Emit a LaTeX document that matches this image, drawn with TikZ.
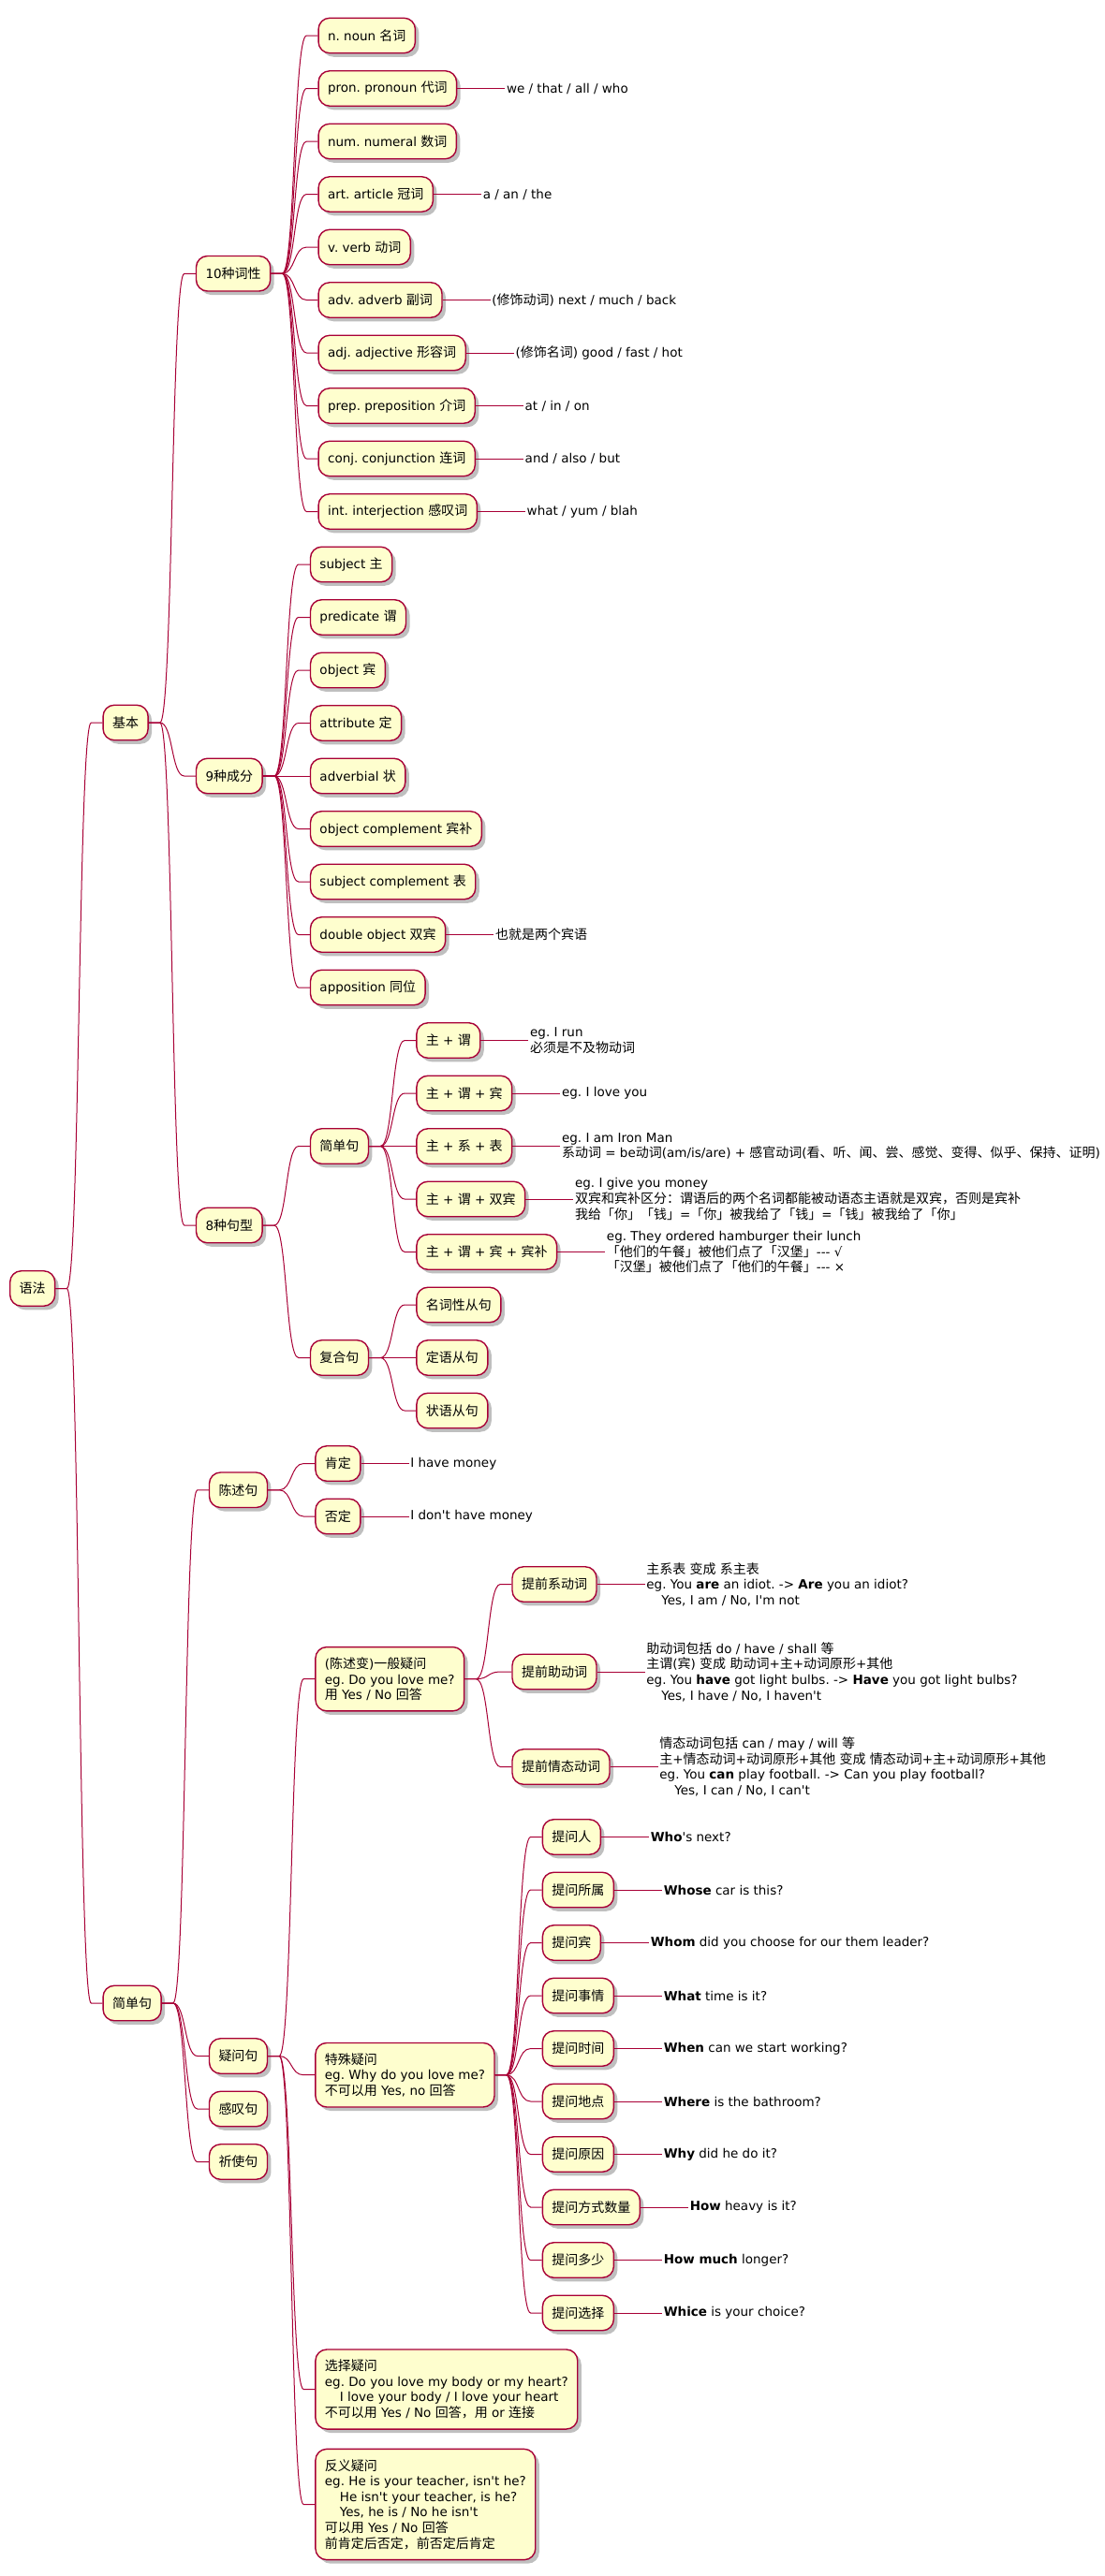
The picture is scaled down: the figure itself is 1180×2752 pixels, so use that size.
\documentclass[tikz,border=0pt]{standalone}
\usepackage{fontspec}
\setmainfont{DejaVu Sans}[Ligatures=TeXOff]
\newfontfamily\cjkfont{Noto Sans CJK SC}[Scale=1.037]
\usetikzlibrary{calc,shadows}
\XeTeXinterchartokenstate=1
\chardef\cjkcls=7
\newcount\cjkcnt
\def\setcjkrange#1#2{\cjkcnt=#1\relax\loop\XeTeXcharclass\cjkcnt=\cjkcls\relax\ifnum\cjkcnt<#2\relax\advance\cjkcnt by 1\relax\repeat}
\setcjkrange{"4E00}{"9FFF}
\setcjkrange{"3000}{"303F}
\setcjkrange{"FF00}{"FFEF}
\XeTeXinterchartoks 0 \cjkcls = {\cjkfont}
\XeTeXinterchartoks 4095 \cjkcls = {\cjkfont}
\XeTeXinterchartoks \cjkcls 0 = {\rmfamily}
\XeTeXinterchartoks \cjkcls 4095 = {\rmfamily}
\definecolor{bord}{HTML}{A80036}
\definecolor{boxfill}{HTML}{FEFECE}
\newcommand\myfont{\fontsize{13.5}{16.6}\selectfont\frenchspacing}
\tikzset{
  box/.style={draw=bord, fill=boxfill, line width=1.4pt, rounded corners=12pt,
    inner xsep=10pt, inner ysep=11pt, minimum height=37.5pt, align=left, font=\myfont,
    drop shadow={shadow xshift=4pt, shadow yshift=-4pt, fill=black, opacity=0.25}},
  leaf/.style={inner xsep=1.5pt, inner ysep=2pt, align=left, font=\myfont},
  lk/.style={draw=bord, line width=1pt}
}
\newcommand\LK[2]{\draw[lk] (#1.east) -- ++(12,0) .. controls +(14,0) and +(-14,0) .. ($(#2.west)+(-12,0)$) -- (#2.west);}
\newcommand\MN[4]{%
  \path (#2.east) ++(50,0) coordinate (tmpc);
  \node[box,anchor=west] (#1) at (tmpc |- 0,#3) {#4};
  \LK{#2}{#1}}
\newcommand\LF[3]{%
  \node[leaf,anchor=west] (#1) at ($(#2.east)+(51,0)$) {#3};
  \draw[lk] (#2.east) -- (#1.west);}
\begin{document}
\frenchspacing
\begin{tikzpicture}[x=1pt,y=-1pt]
\fill[white] (0,0) rectangle (1180,2752);
\useasboundingbox (0,0) rectangle (1180,2752);
\node[box,anchor=west] (root) at (10,1376.5) {语法};
\MN{jb}{root}{772}{基本}
\MN{s1}{root}{2140}{简单句}
% 基本
\MN{c10}{jb}{292.25}{10种词性}
\MN{c9}{jb}{829}{9种成分}
\MN{c8}{jb}{1309}{8种句型}
% 10种词性
\MN{w1}{c10}{38}{n. noun 名词}
\MN{w2}{c10}{94.5}{pron. pronoun 代词}
\LF{w2t}{w2}{we / that / all / who}
\MN{w3}{c10}{151}{num. numeral 数词}
\MN{w4}{c10}{207.5}{art. article 冠词}
\LF{w4t}{w4}{a / an / the}
\MN{w5}{c10}{264}{v. verb 动词}
\MN{w6}{c10}{320.5}{adv. adverb 副词}
\LF{w6t}{w6}{(修饰动词) next / much / back}
\MN{w7}{c10}{377}{adj. adjective 形容词}
\LF{w7t}{w7}{(修饰名词) good / fast / hot}
\MN{w8}{c10}{433.5}{prep. preposition 介词}
\LF{w8t}{w8}{at / in / on}
\MN{w9}{c10}{490}{conj. conjunction 连词}
\LF{w9t}{w9}{and / also / but}
\MN{w10}{c10}{546.5}{int. interjection 感叹词}
\LF{w10t}{w10}{what / yum / blah}
% 9种成分
\MN{p1}{c9}{603}{subject 主}
\MN{p2}{c9}{659.5}{predicate 谓}
\MN{p3}{c9}{716}{object 宾}
\MN{p4}{c9}{772.5}{attribute 定}
\MN{p5}{c9}{829}{adverbial 状}
\MN{p6}{c9}{885.5}{object complement 宾补}
\MN{p7}{c9}{942}{subject complement 表}
\MN{p8}{c9}{998.5}{double object 双宾}
\LF{p8t}{p8}{也就是两个宾语}
\MN{p9}{c9}{1055}{apposition 同位}
% 8种句型
\MN{ss}{c8}{1224.5}{简单句}
\MN{fh}{c8}{1450.5}{复合句}
\MN{k1}{ss}{1111.5}{主 + 谓}
\LF{k1t}{k1}{eg. I run\\必须是不及物动词}
\MN{k2}{ss}{1168}{主 + 谓 + 宾}
\LF{k2t}{k2}{eg. I love you}
\MN{k3}{ss}{1224.5}{主 + 系 + 表}
\LF{k3t}{k3}{eg. I am Iron Man\\系动词 = be动词(am/is/are) + 感官动词(看、听、闻、尝、感觉、变得、似乎、保持、证明)}
\MN{k4}{ss}{1281}{主 + 谓 + 双宾}
\LF{k4t}{k4}{eg. I give you money\\双宾和宾补区分：谓语后的两个名词都能被动语态主语就是双宾，否则是宾补\\我给「你」「钱」=「你」被我给了「钱」=「钱」被我给了「你」}
\MN{k5}{ss}{1337.5}{主 + 谓 + 宾 + 宾补}
\LF{k5t}{k5}{eg. They ordered hamburger their lunch\\「他们的午餐」被他们点了「汉堡」--- √\\「汉堡」被他们点了「他们的午餐」--- ×}
\MN{k6}{fh}{1394}{名词性从句}
\MN{k7}{fh}{1450.5}{定语从句}
\MN{k8}{fh}{1507}{状语从句}
% 简单句
\MN{cs}{s1}{1591.75}{陈述句}
\MN{yw}{s1}{2196.5}{疑问句}
\MN{gt}{s1}{2253}{感叹句}
\MN{qs}{s1}{2309.5}{祈使句}
\MN{kd}{cs}{1563.5}{肯定}
\LF{kdt}{kd}{I have money}
\MN{fd}{cs}{1620}{否定}
\LF{fdt}{fd}{I don't have money}
% 疑问句
\MN{yb}{yw}{1793.7}{(陈述变)一般疑问\\eg. Do you love me?\\用 Yes / No 回答}
\MN{ts}{yw}{2216.7}{特殊疑问\\eg. Why do you love me?\\不可以用 Yes, no 回答}
\MN{xz}{yw}{2552.5}{选择疑问\\eg. Do you love my body or my heart?\\\hspace*{16pt}I love your body / I love your heart\\不可以用 Yes / No 回答，用 or 连接}
\MN{fy}{yw}{2675.5}{反义疑问\\eg. He is your teacher, isn't he?\\\hspace*{16pt}He isn't your teacher, is he?\\\hspace*{16pt}Yes, he is / No he isn't\\可以用 Yes / No 回答\\前肯定后否定，前否定后肯定}
% 一般疑问
\MN{t1}{yb}{1692.5}{提前系动词}
\LF{t1t}{t1}{主系表 变成 系主表\\eg. You \textbf{are} an idiot. -> \textbf{Are} you an idiot?\\\hspace*{16pt}Yes, I am / No, I'm not}
\MN{t2}{yb}{1786}{提前助动词}
\LF{t2t}{t2}{助动词包括 do / have / shall 等\\主谓(宾) 变成 助动词+主+动词原形+其他\\eg. You \textbf{have} got light bulbs. -> \textbf{Have} you got light bulbs?\\\hspace*{16pt}Yes, I have / No, I haven't}
\MN{t3}{yb}{1887.5}{提前情态动词}
\LF{t3t}{t3}{情态动词包括 can / may / will 等\\主+情态动词+动词原形+其他 变成 情态动词+主+动词原形+其他\\eg. You \textbf{can} play football. -> Can you play football?\\\hspace*{16pt}Yes, I can / No, I can't}
% 特殊疑问
\MN{q1}{ts}{1962.5}{提问人}
\LF{q1t}{q1}{\textbf{Who}'s next?}
\MN{q2}{ts}{2019}{提问所属}
\LF{q2t}{q2}{\textbf{Whose} car is this?}
\MN{q3}{ts}{2075.5}{提问宾}
\LF{q3t}{q3}{\textbf{Whom} did you choose for our them leader?}
\MN{q4}{ts}{2132}{提问事情}
\LF{q4t}{q4}{\textbf{What} time is it?}
\MN{q5}{ts}{2188.5}{提问时间}
\LF{q5t}{q5}{\textbf{When} can we start working?}
\MN{q6}{ts}{2245}{提问地点}
\LF{q6t}{q6}{\textbf{Where} is the bathroom?}
\MN{q7}{ts}{2301.5}{提问原因}
\LF{q7t}{q7}{\textbf{Why} did he do it?}
\MN{q8}{ts}{2358}{提问方式数量}
\LF{q8t}{q8}{\textbf{How} heavy is it?}
\MN{q9}{ts}{2414.5}{提问多少}
\LF{q9t}{q9}{\textbf{How much} longer?}
\MN{q10}{ts}{2471}{提问选择}
\LF{q10t}{q10}{\textbf{Whice} is your choice?}
\end{tikzpicture}
\end{document}
